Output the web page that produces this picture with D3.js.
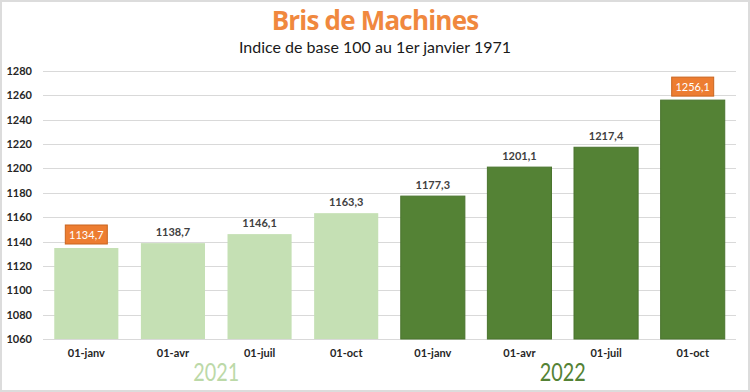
<!DOCTYPE html>
<html>
<head>
<meta charset="utf-8">
<script src="https://cdn.jsdelivr.net/npm/d3@7"></script>
<style>
  body { margin: 0; background: #fff; }
  svg { display: block; }
</style>
</head>
<body>
<svg id="chart" width="750" height="392"></svg>
<script>
// chart data
var categories = ["01-janv", "01-avr", "01-juil", "01-oct", "01-janv", "01-avr", "01-juil", "01-oct"];
var years = ["2021", "2021", "2021", "2021", "2022", "2022", "2022", "2022"];
var values = [1134.7, 1138.7, 1146.1, 1163.3, 1177.3, 1201.1, 1217.4, 1256.1];
var highlighted = [true, false, false, false, false, false, false, true];
var yTicks = [1060, 1080, 1100, 1120, 1140, 1160, 1180, 1200, 1220, 1240, 1260, 1280];
var yearLabels = ["2021", "2022"];

var W = 750, H = 392;
var margin = { top: 71, right: 14, bottom: 53, left: 43 };
var lightGreen = "#c5e0b4", darkGreen = "#548235", orange = "#ed7d31";
var font = "Lato, 'Open Sans', sans-serif";

var svg = d3.select("#chart");

// frame
svg.append("rect")
    .attr("x", 1).attr("y", 1)
    .attr("width", W - 2).attr("height", H - 2)
    .attr("fill", "#fff")
    .attr("stroke", "#dcdcdc")
    .attr("stroke-width", 2);

var idx = d3.range(values.length);

var x = d3.scaleBand()
    .domain(idx)
    .range([margin.left, W - margin.right])
    .paddingInner(0.26)
    .paddingOuter(0.13);

var y = d3.scaleLinear()
    .domain([1060, 1280])
    .range([H - margin.bottom, margin.top]);

// gridlines
svg.append("g")
    .selectAll("line")
    .data(yTicks)
    .join("line")
    .attr("x1", margin.left)
    .attr("x2", W - margin.right)
    .attr("y1", function (d) { return Math.round(y(d)) + 0.5; })
    .attr("y2", function (d) { return Math.round(y(d)) + 0.5; })
    .attr("stroke", "#d9d9d9")
    .attr("stroke-width", 1);

// y axis labels
var yAxis = d3.axisLeft(y).tickValues(yTicks).tickFormat(d3.format("d")).tickSize(0).tickPadding(11);
var yg = svg.append("g")
    .attr("transform", "translate(" + margin.left + ",0)")
    .call(yAxis);
yg.select(".domain").remove();
yg.selectAll("text")
    .attr("font-family", font)
    .attr("font-size", 11)
    .attr("font-weight", "bold")
    .attr("fill", "#262626");

// bars
svg.append("g")
    .selectAll("rect")
    .data(idx)
    .join("rect")
    .attr("x", function (i) { return x(i); })
    .attr("y", function (i) { return y(values[i]); })
    .attr("width", x.bandwidth())
    .attr("height", function (i) { return y(1060) - y(values[i]); })
    .attr("fill", function (i) { return years[i] == "2021" ? lightGreen : darkGreen; })
    .attr("stroke", function (i) { return years[i] == "2021" ? "none" : "#4a742e"; })
    .attr("stroke-width", 1);

// category labels
var xAxis = d3.axisBottom(x).tickFormat(function (i) { return categories[i]; }).tickSize(0).tickPadding(10);
var xg = svg.append("g")
    .attr("transform", "translate(0," + (H - margin.bottom) + ")")
    .call(xAxis);
xg.select(".domain").remove();
xg.selectAll("text")
    .attr("font-family", font)
    .attr("font-size", 11)
    .attr("font-weight", "bold")
    .attr("fill", "#262626");

var fmt = function (v) { return d3.format(".1f")(v).replace(".", ","); };

// value labels
var labels = svg.append("g")
    .selectAll("g")
    .data(idx)
    .join("g")
    .attr("transform", function (i) {
        return "translate(" + (x(i) + x.bandwidth() / 2) + "," + y(values[i]) + ")";
    });

labels.filter(function (i) { return highlighted[i]; })
    .append("rect")
    .attr("x", -21)
    .attr("y", -23)
    .attr("width", 42)
    .attr("height", 19)
    .attr("fill", orange)
    .attr("stroke", "#c9651f")
    .attr("stroke-width", 1);

labels.append("text")
    .attr("text-anchor", "middle")
    .attr("y", function (i) { return highlighted[i] ? -9 : -7; })
    .attr("font-family", font)
    .attr("font-size", 11)
    .attr("font-weight", function (i) { return highlighted[i] ? "normal" : "bold"; })
    .attr("fill", function (i) { return highlighted[i] ? "#fff" : "#404040"; })
    .text(function (i) { return fmt(values[i]); });

// year labels under each group
svg.append("g")
    .selectAll("text")
    .data(yearLabels)
    .join("text")
    .attr("x", function (yr) {
        var ids = idx.filter(function (i) { return years[i] == yr; });
        var a = x(ids[0]) + x.bandwidth() / 2;
        var b = x(ids[ids.length - 1]) + x.bandwidth() / 2;
        return (a + b) / 2 - 23;
    })
    .attr("y", 381)
    .attr("textLength", 46)
    .attr("lengthAdjust", "spacingAndGlyphs")
    .attr("font-family", font)
    .attr("font-size", 25)
    .attr("font-weight", "normal")
    .attr("fill", function (yr) { return yr == "2021" ? "#bcd9a8" : darkGreen; })
    .text(function (yr) { return yr; });

// titles
svg.append("text")
    .attr("x", W / 2)
    .attr("y", 30)
    .attr("text-anchor", "middle")
    .attr("font-family", "'Open Sans', sans-serif")
    .attr("font-size", 26)
    .attr("font-weight", "bold")
    .attr("letter-spacing", -0.8)
    .attr("fill", "#f0883e")
    .text("Bris de Machines");

svg.append("text")
    .attr("x", W / 2)
    .attr("y", 53)
    .attr("text-anchor", "middle")
    .attr("font-family", "Lato, sans-serif")
    .attr("font-size", 16)
    .attr("fill", "#1a1a1a")
    .text("Indice de base 100 au 1er janvier 1971");
</script>
</body>
</html>
